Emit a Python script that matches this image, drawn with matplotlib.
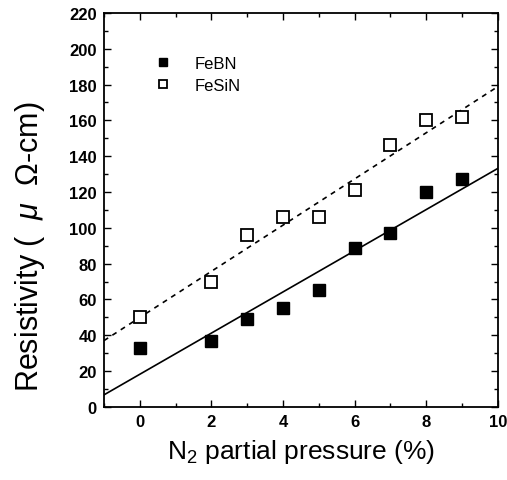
import numpy as np
import matplotlib.pyplot as plt
from matplotlib.ticker import MultipleLocator

plt.rcParams['font.family'] = ['Liberation Sans', 'DejaVu Sans']
plt.rcParams['mathtext.fontset'] = 'custom'
plt.rcParams['mathtext.rm'] = 'Liberation Sans'
plt.rcParams['mathtext.it'] = 'Liberation Sans:italic'

# data
pressure = [0, 2, 3, 4, 5, 6, 7, 8, 9]
febn = [33, 37, 49, 55, 65, 89, 97, 120, 127]
fesin = [50, 70, 96, 106, 106, 121, 146, 160, 162]

# fit lines (slope, intercept)
febn_fit = (11.5, 18.2)
fesin_fit = (12.9, 49.9)

fig = plt.figure(figsize=(5.07, 4.81), dpi=100)
ax = fig.add_axes([0.205, 0.152, 0.777, 0.819])

xx = np.array([-1, 10])
ax.plot(xx, febn_fit[0] * xx + febn_fit[1], 'k-', lw=1.2)
ax.plot(xx, fesin_fit[0] * xx + fesin_fit[1], 'k--', lw=1.2, dashes=(3, 3))

ax.plot(pressure, febn, 's', color='k', ms=8, label='FeBN')
ax.plot(pressure, fesin, 's', mfc='white', mec='k', mew=1.3, ms=8, label='FeSiN')

ax.set_xlim(-1, 10)
ax.set_ylim(0, 220)
ax.xaxis.set_major_locator(MultipleLocator(2))
ax.xaxis.set_minor_locator(MultipleLocator(1))
ax.yaxis.set_major_locator(MultipleLocator(20))
ax.yaxis.set_minor_locator(MultipleLocator(10))
ax.tick_params(which='both', direction='in', top=True, right=True, width=1)
ax.tick_params(which='major', length=5, labelsize=12, pad=5)
ax.tick_params(which='minor', length=3)
for lab in ax.get_xticklabels() + ax.get_yticklabels():
    lab.set_fontweight('bold')
for s in ax.spines.values():
    s.set_linewidth(1.3)

ax.set_xlabel('N$_2$ partial pressure (%)', fontsize=19, labelpad=6)
ax.set_ylabel('Resistivity (  $\\mu$  $\\mathit{\\Omega}$-cm)', fontsize=22)
ax.yaxis.set_label_coords(-0.145, 0.41)

ax.legend(loc='upper left', frameon=False, fontsize=12, bbox_to_anchor=(0.07, 0.93),
          handletextpad=0.9, labelspacing=0.45, markerscale=0.7)

fig.savefig('out.png', dpi=100)
